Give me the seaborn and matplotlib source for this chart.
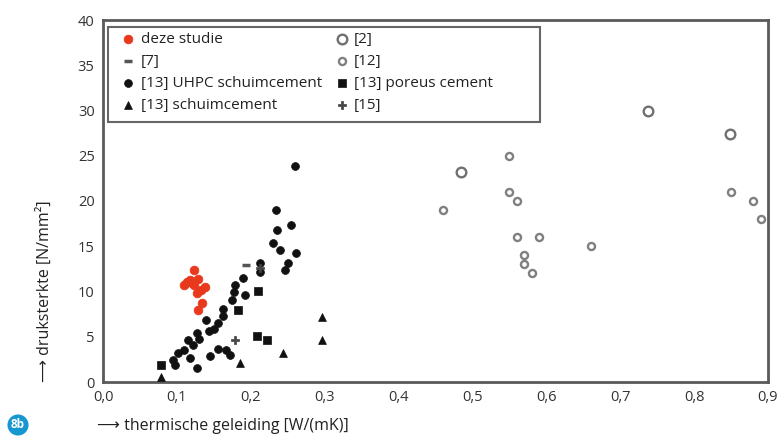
import matplotlib
matplotlib.use("Agg")
import matplotlib.pyplot as plt
import matplotlib.patches as mpatches
import seaborn as sns
import pandas as pd
from matplotlib.ticker import FixedLocator

sns.set_style("white")
plt.rcParams['font.family'] = ['Open Sans', 'DejaVu Sans']

# ---- data ----
deze_x = [0.110, 0.118, 0.123, 0.123, 0.128, 0.132, 0.138, 0.127, 0.134, 0.128, 0.120, 0.114]
deze_y = [10.7, 11.3, 12.4, 10.7, 11.4, 10.2, 10.5, 9.8, 8.7, 8.0, 10.9, 11.0]

ref2_x = [0.484, 0.738, 0.848]
ref2_y = [23.2, 30.0, 27.4]

ref7_x = [0.193]
ref7_y = [12.9]

ref12_x = [0.55, 0.55, 0.56, 0.46, 0.85, 0.88, 0.89, 0.56, 0.59, 0.66, 0.57, 0.57, 0.58]
ref12_y = [25.0, 21.0, 20.0, 19.0, 21.0, 20.0, 18.0, 16.0, 16.0, 15.0, 14.0, 13.0, 12.0]

uhpc_x = [0.260, 0.234, 0.254, 0.236, 0.230, 0.239, 0.261, 0.251, 0.246, 0.212, 0.212, 0.190,
          0.179, 0.177, 0.192, 0.174, 0.163, 0.163, 0.139, 0.156, 0.150, 0.143, 0.127, 0.130,
          0.115, 0.122, 0.109, 0.102, 0.095, 0.097, 0.118, 0.127, 0.145, 0.156, 0.167, 0.172]
uhpc_y = [23.9, 19.0, 17.3, 16.8, 15.4, 14.6, 14.3, 13.1, 12.4, 13.2, 12.1, 11.5,
          10.7, 9.9, 9.6, 9.1, 8.1, 7.3, 6.9, 6.5, 5.9, 5.6, 5.4, 4.8,
          4.6, 4.1, 3.5, 3.2, 2.4, 1.9, 2.6, 1.5, 2.9, 3.6, 3.5, 3.0]

poreus_x = [0.078, 0.210, 0.183, 0.208, 0.222]
poreus_y = [1.9, 10.1, 8.0, 5.1, 4.6]

schuim_x = [0.078, 0.185, 0.244, 0.297, 0.297]
schuim_y = [0.6, 2.1, 3.2, 7.2, 4.6]

ref15_x = [0.179, 0.212]
ref15_y = [4.6, 12.6]

x_ticks = [0.0, 0.1, 0.2, 0.3, 0.4, 0.5, 0.6, 0.7, 0.8, 0.9]
x_ticklabels = ["0,0", "0,1", "0,2", "0,3", "0,4", "0,5", "0,6", "0,7", "0,8", "0,9"]
y_ticks = [0, 5, 10, 15, 20, 25, 30, 35, 40]
y_ticklabels = ["0", "5", "10", "15", "20", "25", "30", "35", "40"]

# ---- figure ----
fig = plt.figure(figsize=(7.78, 4.37), dpi=100)
AX_L, AX_B, AX_W, AX_H = 103, 55, 665, 362
ax = fig.add_axes([AX_L/778, AX_B/437, AX_W/778, AX_H/437])

def scat(xs, ys, label, **kw):
    df = pd.DataFrame({"x": xs, "y": ys})
    sns.scatterplot(data=df, x="x", y="y", ax=ax, label=label, **kw)

black = "#111111"
scat(deze_x, deze_y, "deze studie", marker="o", s=40, color="#e8391d", edgecolor="#e8391d", linewidth=0.5, zorder=3)
scat(ref7_x, ref7_y, "[7]", marker="_", s=40, color="#555555", linewidth=2.5, zorder=3)
scat(uhpc_x, uhpc_y, "[13] UHPC schuimcement", marker="o", s=32, color=black, edgecolor=black, linewidth=0.5, zorder=3)
scat(schuim_x, schuim_y, "[13] schuimcement", marker="^", s=32, color=black, edgecolor=black, linewidth=0.5, zorder=3)
scat(ref2_x, ref2_y, "[2]", marker="o", s=48, facecolor="white", edgecolor="#707070", linewidth=1.7, zorder=3)
scat(ref12_x, ref12_y, "[12]", marker="o", s=26, facecolor="white", edgecolor="#808080", linewidth=1.7, zorder=3)
scat(poreus_x, poreus_y, "[13] poreus cement", marker="s", s=32, color=black, edgecolor=black, linewidth=0.5, zorder=3)
scat(ref15_x, ref15_y, "[15]", marker="P", s=36, color="#444444", edgecolor="#444444", linewidth=0.5, zorder=3)

ax.set_xlim(0, 0.9)
ax.set_ylim(0, 40)
ax.xaxis.set_major_locator(FixedLocator(x_ticks))
ax.set_xticklabels(x_ticklabels)
ax.yaxis.set_major_locator(FixedLocator(y_ticks))
ax.set_yticklabels(y_ticklabels)
ax.tick_params(axis="both", direction="in", length=3, width=1, color="#666666",
               labelsize=10.5, labelcolor="#333333", pad=6)
ax.set_xlabel("")
ax.set_ylabel("")
for sp in ax.spines.values():
    sp.set_visible(True)
    sp.set_color("#5a5a5a")
    sp.set_linewidth(2)

# legend frame drawn separately (pixel box 108..540 x 27..122)
def ax_x(px):
    return (px - AX_L) / AX_W

def ax_y(py):
    return 1 - (py - 20) / AX_H

frame = mpatches.Rectangle((ax_x(108), ax_y(122)), ax_x(540) - ax_x(108), ax_y(27) - ax_y(122),
                           transform=ax.transAxes, facecolor="white", edgecolor="#666666",
                           linewidth=1.5, zorder=4, clip_on=False)
ax.add_patch(frame)

handles, labels = ax.get_legend_handles_labels()
leg = ax.legend(handles, labels, ncol=2, loc="upper left",
                bbox_to_anchor=(ax_x(114.6), ax_y(27.5)),
                frameon=False, fontsize=11, handletextpad=0.2, handlelength=1.2,
                labelspacing=0.45, columnspacing=0.72, borderpad=0.3, borderaxespad=0)
leg.set_zorder(5)
for t in leg.get_texts():
    t.set_color("#222222")

fig.text(45/778, (437-291)/437, "\u27f6 druksterkte [N/mm\u00b2]", rotation=90,
         ha="center", va="center", fontsize=11.5, color="#222222")
fig.text(97/778, (437-426)/437, "\u27f6 thermische geleiding [W/(mK)]",
         ha="left", va="center", fontsize=11.5, color="#222222")
fig.text(18/778, (437-425)/437, "8b", ha="center", va="center", fontsize=8.5,
         fontweight="bold", color="white",
         bbox=dict(boxstyle="circle,pad=0.3", fc="#1797cf", ec="none"))

fig.savefig("out.png", dpi=100)
